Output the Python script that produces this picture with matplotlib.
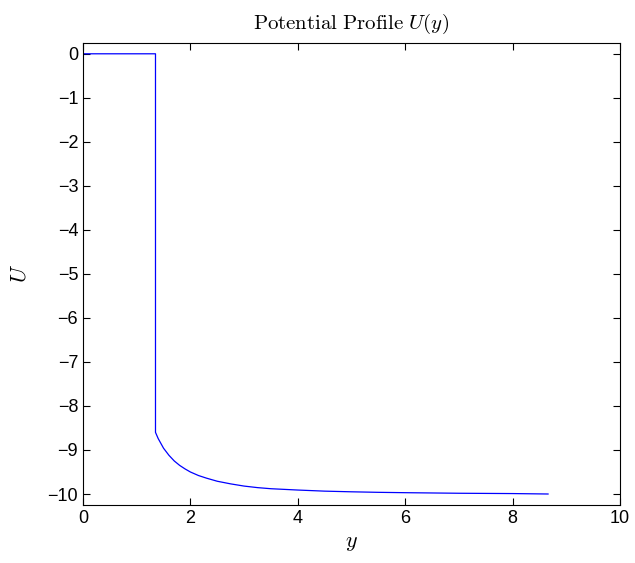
import matplotlib
matplotlib.use('Agg')
import matplotlib.pyplot as plt

plt.rcParams['font.family'] = ['Liberation Sans', 'DejaVu Sans']
plt.rcParams['mathtext.fontset'] = 'cm'

# potential profile
y_vals = [0.0, 1.35, 1.35, 1.4, 1.5, 1.6, 1.7, 1.8, 1.9, 2.0, 2.15, 2.3, 2.5, 2.75,
          3.0, 3.25, 3.5, 4.0, 4.5, 5.0, 5.5, 6.0, 7.0, 8.0, 8.66]
u_vals = [0.0, 0.0, -8.60, -8.74, -8.96, -9.12, -9.25, -9.35, -9.43, -9.50, -9.58,
          -9.64, -9.71, -9.77, -9.82, -9.855, -9.88, -9.91, -9.935, -9.95, -9.962,
          -9.97, -9.983, -9.99, -10.0]

fig = plt.figure(figsize=(6.35, 5.63), dpi=100)
ax = fig.add_axes([0.1307, 0.103, 0.8457, 0.821])

ax.plot(y_vals, u_vals, color='#0000ff', linewidth=0.9)

ax.set_xlim(0, 10)
ax.set_ylim(-10.25, 0.25)
ax.set_xticks(range(0, 11, 2))
ax.set_yticks(range(-10, 1))
ax.tick_params(direction='in', top=True, right=True, length=5, labelsize=13)

ax.set_title(r'$\mathrm{Potential\ Profile}\ U(y)$', fontsize=15, pad=10)
ax.set_xlabel(r'$y$', fontsize=16, labelpad=4)
ax.set_ylabel(r'$U$', fontsize=16, labelpad=12)

fig.savefig('out.png', dpi=100)
